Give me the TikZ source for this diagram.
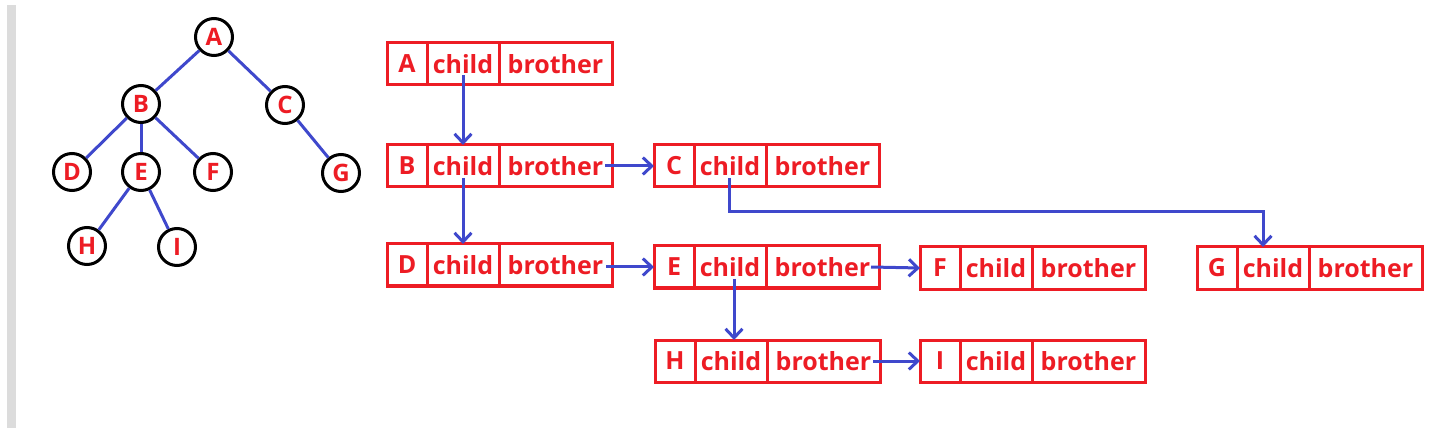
\documentclass[tikz,border=0pt]{standalone}
\usepackage{fontspec}
\setmainfont{Open Sans}
\usetikzlibrary{arrows.meta,calc}
\definecolor{myred}{HTML}{ED1C24}
\definecolor{myblue}{HTML}{3F48CC}
\definecolor{bargray}{HTML}{DCDCDC}
\newcommand\myrecord[4]{%
  \node[cell, minimum width=40pt] (#1l) at (#2,#3) {#4};
  \node[cell, minimum width=72pt] (#1c) at (#1l.north east) {child};
  \node[cell, minimum width=113pt] (#1b) at (#1c.north east) {brother};
}
\begin{document}
\begin{tikzpicture}[x=1pt,y=-1pt,
  cell/.style={draw=myred, line width=3pt, minimum height=42pt, inner sep=0pt, outer sep=0pt,
    anchor=north west, text=myred, font=\bfseries\fontsize{25}{25}\selectfont},
  tnode/.style={circle, draw=black, fill=white, line width=3pt, minimum size=37pt, inner sep=0pt,
    text=myred, font=\bfseries\fontsize{24}{24}\selectfont},
  tedge/.style={draw=myblue, line width=3pt},
  arr/.style={draw=myblue, line width=3pt, -{Straight Barb[length=9pt,width=17pt,line width=3pt]}}]
\useasboundingbox (0,0) rectangle (1453,430);
\fill[bargray] (7,5) rectangle (16,428);
% tree
\node[tnode] (A) at (214,37) {A};
\node[tnode] (B) at (141,104) {B};
\node[tnode] (C) at (285,105) {C};
\node[tnode] (D) at (72,172) {D};
\node[tnode] (E) at (141,172) {E};
\node[tnode] (F) at (213,172) {F};
\node[tnode] (G) at (341,173) {G};
\node[tnode] (H) at (87,246) {H};
\node[tnode] (I) at (177,247) {I};
\draw[tedge] (A) -- (B);
\draw[tedge] (A) -- (C);
\draw[tedge] (B) -- (D);
\draw[tedge] (B) -- (E);
\draw[tedge] (B) -- (F);
\draw[tedge] (C) -- (G);
\draw[tedge] (E) -- (H);
\draw[tedge] (E) -- (I);
% records
\myrecord{RA}{387}{43}{A}
\myrecord{RB}{387}{145}{B}
\myrecord{RC}{654}{145}{C}
\myrecord{RD}{387}{244}{D}
\myrecord{RE}{654}{246}{E}
\myrecord{RF}{920}{247}{F}
\myrecord{RG}{1197}{247}{G}
\myrecord{RH}{655}{340}{H}
\myrecord{RI}{920}{340}{I}
% arrows
\draw[arr] ($(RAc.center)+(0,11)$) -- (RBc.north);
\draw[arr] ($(RBc.center)+(0,12)$) -- (RDc.north);
\draw[arr] ($(RBb.east)+(-7,0)$) -- (RCl.west);
\coordinate (sDE) at ($(RDb.east)+(-6,0)$);
\draw[arr] (sDE |- REl.west) -- (REl.west);
\draw[arr] ($(REb.east)+(-8,0)$) -- (RFl.west);
\draw[arr] ($(RHb.east)+(-7,0)$) -- (RIl.west);
\coordinate (sEH) at ($(REc.center)+(4,12)$);
\draw[arr] (sEH) -- (sEH |- RHc.north);
\coordinate (gbend) at (1263,212);
\draw[arr] ($(RCc.center)+(-1,12)$) |- (gbend) -- (gbend |- RGc.north);
\end{tikzpicture}
\end{document}
